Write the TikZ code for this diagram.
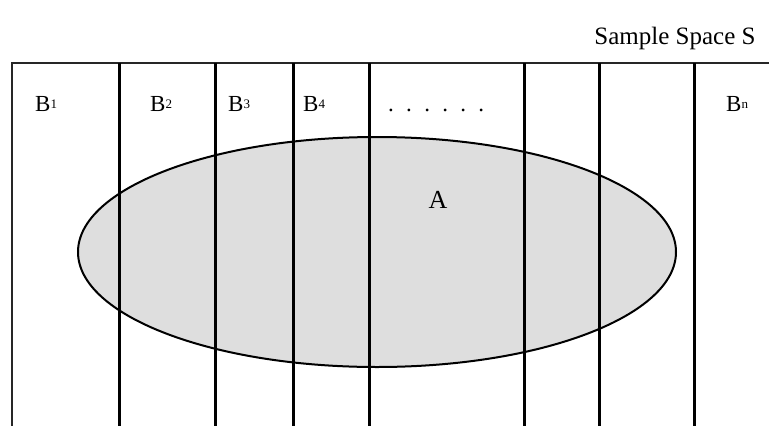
\documentclass[tikz,border=0pt]{standalone}
\usepackage{fontspec}
\setmainfont{Liberation Serif}
\usepackage{tikz}
\definecolor{setgray}{RGB}{222,222,222}
\newcommand{\Bsub}[1]{B\raisebox{3pt}{\fontsize{13}{13}\selectfont #1}}

\begin{document}
\begin{tikzpicture}[x=1pt,y=-1pt,
    lbl/.style={anchor=base west,inner sep=0pt,font=\fontsize{23}{23}\selectfont},
    part/.style={line width=3pt,black},
    edge/.style={line width=1.8pt,black!85}]
  \useasboundingbox (0,0) rectangle (769,426);
  % event A
  \draw[fill=setgray,line width=2pt] (377,252) ellipse [x radius=299pt,y radius=115pt];
  % sample space border
  \draw[edge] (12,426) -- (12,63) -- (769,63);
  \foreach \px in {119,215,293,369,524,599,694}
    \draw[part] (\px,63) -- (\px,426);
  \node[anchor=base,inner sep=0pt,font=\fontsize{25}{25}\selectfont] (space) at (675,44) {Sample Space S};
  \node[lbl] (b1) at (35,111) {\Bsub{1}};
  \node[lbl] (b2) at (150,111) {\Bsub{2}};
  \node[lbl] (b3) at (228,111) {\Bsub{3}};
  \node[lbl] (b4) at (303,111) {\Bsub{4}};
  \node[lbl] (dots) at (388,111) {.\hspace{12.3pt}.\hspace{12.3pt}.\hspace{12.3pt}.\hspace{12.3pt}.\hspace{12.3pt}.};
  \node[lbl] (bn) at (726,111) {\Bsub{n}};
  \node[anchor=base,inner sep=0pt,font=\fontsize{26}{26}\selectfont] (a) at (438,208) {A};
\end{tikzpicture}
\end{document}
